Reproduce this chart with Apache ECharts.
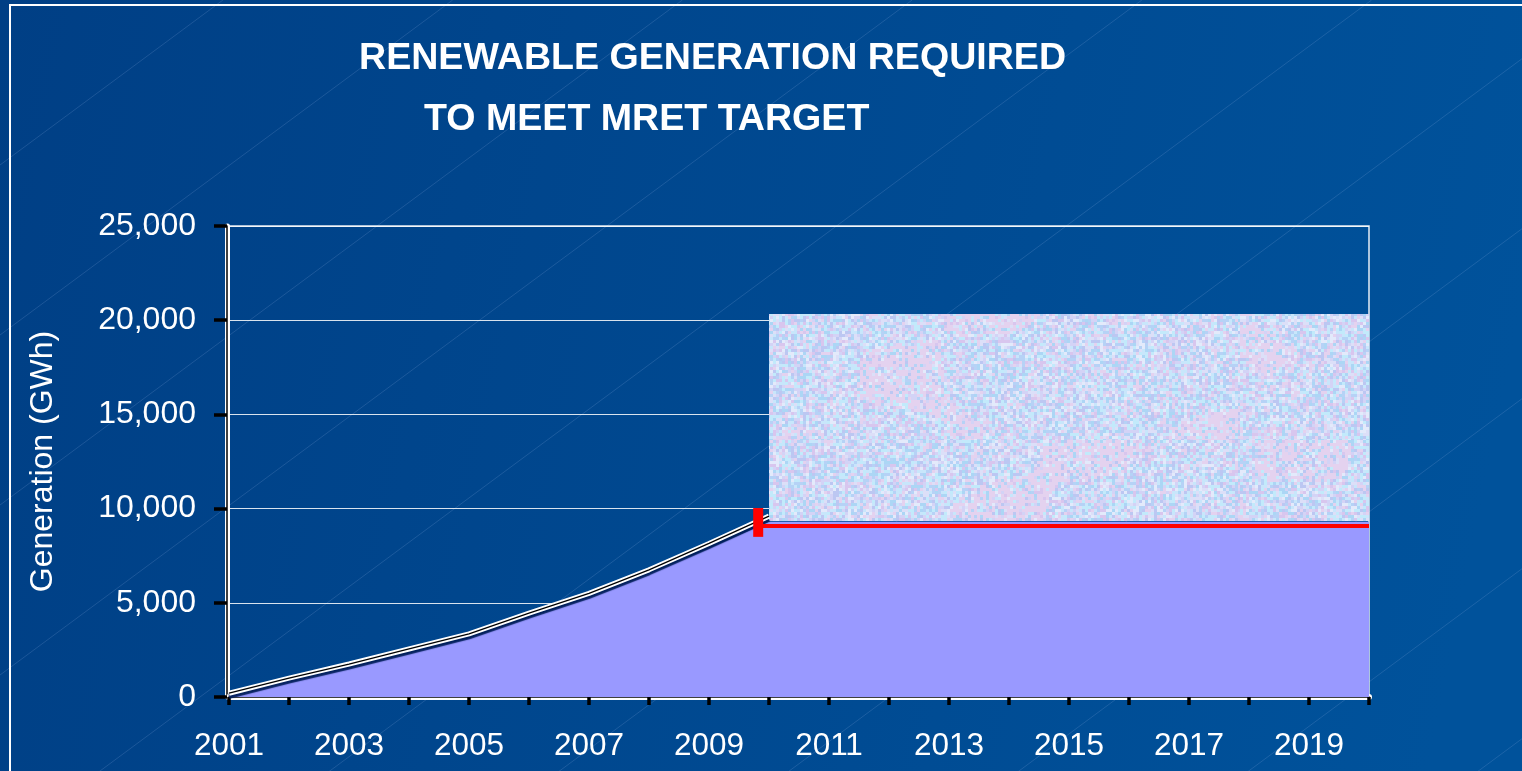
<!DOCTYPE html>
<html>
<head>
<meta charset="utf-8">
<script src="https://cdn.jsdelivr.net/npm/echarts@6/dist/echarts.min.js"></script>
<style>
  html, body { margin: 0; padding: 0; background: #004587; }
  #chart { width: 1522px; height: 771px; }
</style>
</head>
<body>
<div id="chart"></div>
<script>
  // data (GWh)
  const years = [2001, 2002, 2003, 2004, 2005, 2006, 2007, 2008, 2009, 2010,
                 2011, 2012, 2013, 2014, 2015, 2016, 2017, 2018, 2019, 2020]
  const xLabelYears = [2001, 2003, 2005, 2007, 2009, 2011, 2013, 2015, 2017, 2019]
  const requiredYears = [2001, 2002, 2003, 2004, 2005, 2006, 2007, 2008, 2009, 2010]
  const requiredGeneration = [200, 1000, 1750, 2550, 3350, 4450, 5500, 6750, 8150, 9600]
  const areaGeneration = [100, 850, 1550, 2330, 3130, 4230, 5300, 6550, 7900, 9300,
                          9300, 9300, 9300, 9300, 9300, 9300, 9300, 9300, 9300, 9300]
  const targetYears = [2009.82, 2020]
  const targetLevel = [9080, 9080]
  const targetMarkYears = [2009.82, 2009.82]
  const targetMarkRange = [8500, 10030]
  const boxYears = [2010, 2020]
  const boxRange = [9340, 20330]
  const yTicks = { min: 0, max: 25000, interval: 5000 }

  const pairs = (xs, ys) => xs.map((x, i) => [x, ys[i]])

  // speckled pastel texture for the box
  function hash(i, j) {
    const s = Math.sin(i * 12.9898 + j * 78.233) * 43758.5453
    return s - Math.floor(s)
  }
  function makeTexture(w, h) {
    const c = document.createElement('canvas')
    c.width = w
    c.height = h
    const ctx = c.getContext('2d')
    const palette = ['#c8e6fb', '#b6d2f6', '#d3d3f6', '#e4d2ef', '#c2eafb',
                     '#dcdff8', '#bcc7f2', '#e3eafb', '#d8c6ee', '#acd6f5']
    const cell = 3
    for (let y = 0; y < h; y += cell) {
      for (let x = 0; x < w; x += cell) {
        const i = x / cell, j = y / cell
        const low = Math.sin(i * 0.09) * Math.cos(j * 0.13) + Math.sin((i + j) * 0.05)
        let k = Math.floor(hash(i, j) * palette.length)
        if (low > 0.8 && hash(j, i) > 0.5) k = 3
        ctx.fillStyle = palette[k]
        ctx.fillRect(x, y, cell, cell)
      }
    }
    return c
  }

  // faint diagonal lines in the slide background
  const diagonals = []
  for (let c = 165; c < 2000; c += 170) {
    diagonals.push({
      type: 'line',
      z: -10,
      silent: true,
      shape: { x1: 0, y1: c, x2: c / 0.74, y2: 0 },
      style: { stroke: 'rgba(140,175,225,0.2)', lineWidth: 1 }
    })
  }

  const myChart = echarts.init(document.getElementById('chart'))
  const white = '#ffffff'

  const option = {
    backgroundColor: new echarts.graphic.LinearGradient(0, 0, 1, 0.4, [
      { offset: 0, color: '#003f85' },
      { offset: 1, color: '#00529b' }
    ]),
    animation: false,
    textStyle: { fontFamily: 'Liberation Sans, Arial, sans-serif' },
    title: [
      {
        text: 'RENEWABLE GENERATION REQUIRED',
        left: 359, top: 40, padding: 0,
        textStyle: { color: white, fontSize: 37.6, fontWeight: 'bold', fontFamily: 'Liberation Sans' }
      },
      {
        text: 'TO MEET MRET TARGET',
        left: 424, top: 101, padding: 0,
        textStyle: { color: white, fontSize: 37.6, fontWeight: 'bold', fontFamily: 'Liberation Sans' }
      }
    ],
    graphic: diagonals.concat([
      {
        type: 'rect',
        z: -5,
        silent: true,
        shape: { x: 10, y: 5, width: 1700, height: 900 },
        style: { fill: 'none', stroke: white, lineWidth: 2 }
      }
    ]),
    grid: {
      left: 229,
      right: 1522 - 1369,
      top: 226,
      bottom: 74,
      show: true,
      backgroundColor: 'transparent',
      borderColor: 'rgba(255,255,255,0.9)',
      borderWidth: 1.5
    },
    xAxis: [
      {
        type: 'value',
        min: years[0],
        max: years[years.length - 1],
        interval: 1,
        offset: 2,
        axisLine: { lineStyle: { color: white, width: 6 } },
        axisTick: { length: 8, lineStyle: { color: '#000', width: 3.5 } },
        axisLabel: {
          color: white,
          fontSize: 31.5,
          margin: 31,
          formatter: v => xLabelYears.includes(v) ? String(v) : ''
        },
        splitLine: { show: false }
      },
      {
        type: 'value',
        min: years[0],
        max: years[years.length - 1],
        position: 'bottom',
        offset: 2,
        axisLine: { lineStyle: { color: '#000', width: 1.5 } },
        axisTick: { show: false },
        axisLabel: { show: false },
        splitLine: { show: false }
      }
    ],
    yAxis: [
      {
        type: 'value',
        min: yTicks.min,
        max: yTicks.max,
        interval: yTicks.interval,
        offset: 2,
        name: 'Generation (GWh)',
        nameLocation: 'middle',
        nameGap: 168,
        nameTextStyle: { color: white, fontSize: 32 },
        axisLine: { show: true, lineStyle: { color: white, width: 5 } },
        axisTick: { show: true, length: 13, lineStyle: { color: '#000', width: 3.5 } },
        axisLabel: {
          color: white,
          fontSize: 32,
          margin: 31,
          formatter: v => v.toLocaleString('en-US')
        },
        splitLine: { lineStyle: { color: 'rgba(255,255,255,0.85)', width: 1 } }
      },
      {
        type: 'value',
        min: yTicks.min,
        max: yTicks.max,
        position: 'left',
        offset: 2,
        axisLine: { show: true, lineStyle: { color: '#000', width: 1.5 } },
        axisTick: { show: false },
        axisLabel: { show: false },
        splitLine: { show: false }
      }
    ],
    series: [
      {
        name: 'Area',
        type: 'line',
        z: 2,
        symbol: 'none',
        data: pairs(years, areaGeneration),
        lineStyle: { width: 0 },
        areaStyle: { color: '#9999ff', opacity: 1 }
      },
      {
        name: 'Required',
        type: 'line',
        z: 3,
        symbol: 'none',
        data: pairs(requiredYears, requiredGeneration),
        lineStyle: {
          color: white, width: 5,
          shadowColor: 'rgba(0,30,90,0.95)', shadowOffsetY: 3, shadowBlur: 1
        }
      },
      {
        name: 'RequiredCore',
        type: 'line',
        z: 4,
        symbol: 'none',
        data: pairs(requiredYears, requiredGeneration),
        lineStyle: { color: '#000', width: 1.3 }
      },
      {
        name: 'Box',
        type: 'line',
        z: 5,
        symbol: 'none',
        data: [],
        markArea: {
          silent: true,
          itemStyle: { color: { image: makeTexture(620, 220), repeat: 'repeat' }, opacity: 1 },
          data: [[
            { coord: [boxYears[0], boxRange[1]] },
            { coord: [boxYears[1], boxRange[0]] }
          ]]
        }
      },
      {
        name: 'Target',
        type: 'line',
        z: 6,
        symbol: 'none',
        data: pairs(targetYears, targetLevel),
        lineStyle: { color: '#ff0000', width: 4, cap: 'butt' }
      },
      {
        name: 'TargetMark',
        type: 'line',
        z: 6,
        symbol: 'none',
        data: pairs(targetMarkYears, targetMarkRange),
        lineStyle: { color: '#ff0000', width: 10, cap: 'butt' }
      }
    ]
  }
  myChart.setOption(option)
</script>
</body>
</html>
